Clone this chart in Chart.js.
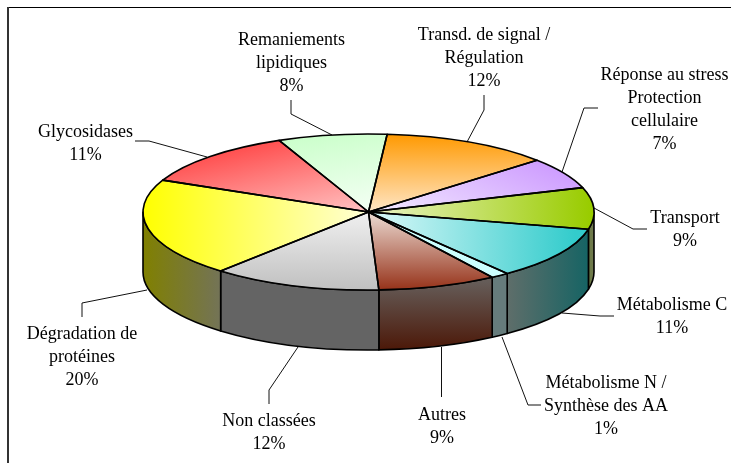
<!DOCTYPE html>
<html lang="fr">
<head>
<meta charset="utf-8">
<title>Catégories fonctionnelles</title>
<script src="https://cdn.jsdelivr.net/npm/chart.js@4"></script>
<style>html,body{margin:0;padding:0;background:#fff}canvas{display:block}</style>
</head>
<body>
<canvas id="c" width="731" height="463"></canvas>
<script>
const categories = [
  ["Transd. de signal /", "Régulation"],
  ["Réponse au stress", "Protection", "cellulaire"],
  ["Transport"],
  ["Métabolisme C"],
  ["Métabolisme N /", "Synthèse des AA"],
  ["Autres"],
  ["Non classées"],
  ["Dégradation de", "protéines"],
  ["Glycosidases"],
  ["Remaniements", "lipidiques"]
];
const values = [12.1, 6.5, 8.6, 10.9, 1.3, 8.5, 12.1, 20.3, 11.8, 7.8];
const percentLabels = ["12%", "7%", "9%", "11%", "1%", "9%", "12%", "20%", "11%", "8%"];

// --- layout and styling ---
const FIRST_ANGLE = 4.75, RX = 225.5, RY = 78, CX = 368.5, CY = 212, DEPTH = 60;
const K = RY / RX;
const labelPlaces = [
  [484, 40], [664.5, 80], [685, 223], [672, 310], [606, 388],
  [442, 420], [269, 426], [82, 339], [85.5, 137], [291.5, 45]
];
const leaders = [
  [[467,142],[484,110],[484,95]],
  [[562,172],[584,108],[598,108]],
  [[594,208],[633,229],[647,229]],
  [[562,313],[600,316],[614,316]],
  [[502,337],[528,405],[541,405]],
  [[441.5,347],[441.5,397]],
  [[298,347],[269,390],[269,404]],
  [[147,290],[82,303],[82,317]],
  [[135,141],[149,141],[207,157]],
  [[291,100],[291,114],[332,135]]
];
// gradient vector in page pixels: x1,y1,colour1,x2,y2,colour2
const topFaces = [
  [380,212,"#ffe6c6",380,134,"#ff9900"],
  [385,212,"#f1e6ff",565,165,"#cc99ff"],
  [385,212,"#e6f0b8",590,212,"#99cc00"],
  [385,212,"#cff5f5",575,212,"#33cccc"],
  [380,212,"#ccffff",500,212,"#ccffff"],
  [380,212,"#ecdcd4",380,290,"#963219"],
  [380,212,"#f0f0f0",380,290,"#c0c0c0"],
  [143,212,"#ffff00",368,212,"#ffffd6"],
  [205,140,"#ff3c3c",345,215,"#ffc0c0"],
  [285,140,"#ccffcc",375,212,"#f5fff5"]
];
const walls = [
  null, null,
  [587,0,"#6a7a40",594,0,"#707a50"],
  [507,0,"#5f6e6a",587,0,"#176464"],
  [493,0,"#667c7c",507,0,"#667c7c"],
  [0,282,"#655c58",0,350,"#4c1808"],
  [0,0,"#646464",100,0,"#646464"],
  [143,0,"#808000",223,0,"#73735a"],
  null, null
];

function gradient(ctx, x1, y1, c1, x2, y2, c2) {
  const g = ctx.createLinearGradient(x1, y1, x2, y2);
  g.addColorStop(0, c1);
  g.addColorStop(1, c2);
  return g;
}

const squashedPie = {
  id: "squashedPie",
  beforeDatasetsDraw(chart) {
    const ctx = chart.ctx;
    const arcs = chart.getDatasetMeta(0).data;
    // frame
    ctx.save();
    ctx.fillStyle = "#000";
    ctx.fillRect(7, 7, 724, 1);
    ctx.fillStyle = "#333";
    ctx.fillRect(7, 7, 2, 456);
    // leader lines
    ctx.strokeStyle = "#111";
    ctx.lineWidth = 1;
    leaders.forEach(pts => {
      ctx.beginPath();
      pts.forEach((p, i) => i ? ctx.lineTo(p[0], p[1]) : ctx.moveTo(p[0], p[1]));
      ctx.stroke();
    });
    // side walls
    ctx.lineWidth = 1.6;
    ctx.strokeStyle = "#000";
    ctx.lineJoin = "round";
    arcs.forEach((arc, i) => {
      const w = walls[i];
      if (!w) return;
      const a0 = Math.max(arc.startAngle, 0), a1 = Math.min(arc.endAngle, Math.PI);
      if (a1 <= a0) return;
      const r = arc.outerRadius, ry = r * K;
      ctx.beginPath();
      ctx.ellipse(arc.x, CY, r, ry, 0, a0, a1);
      ctx.ellipse(arc.x, CY + DEPTH, r, ry, 0, a1, a0, true);
      ctx.closePath();
      ctx.fillStyle = gradient(ctx, w[0], w[1], w[2], w[3], w[4], w[5]);
      ctx.fill();
      ctx.stroke();
    });
    ctx.restore();
    // top face: the library's arcs, drawn through a flattening transform
    const cyPie = arcs[0].y;
    ctx.save();
    ctx.translate(0, CY);
    ctx.scale(1, K);
    ctx.translate(0, -cyPie);
  },
  afterDatasetsDraw(chart) {
    const ctx = chart.ctx;
    ctx.restore();
    const arcs = chart.getDatasetMeta(0).data;
    ctx.save();
    ctx.lineWidth = 1.6;
    ctx.strokeStyle = "#000";
    ctx.lineJoin = "round";
    arcs.forEach(arc => {
      const r = arc.outerRadius;
      ctx.beginPath();
      ctx.moveTo(arc.x, CY);
      ctx.ellipse(arc.x, CY, r, r * K, 0, arc.startAngle, arc.endAngle);
      ctx.closePath();
      ctx.stroke();
    });
    // labels
    ctx.fillStyle = "#000";
    ctx.font = '18px "Liberation Serif"';
    ctx.textAlign = "center";
    ctx.textBaseline = "alphabetic";
    categories.forEach((lines, i) => {
      const [x, y] = labelPlaces[i];
      lines.concat(percentLabels[i]).forEach((t, j) => ctx.fillText(t, x, y + j * 23));
    });
    ctx.restore();
  }
};

new Chart(document.getElementById("c"), {
  type: "pie",
  data: {
    labels: categories.map(l => l.join(" ")),
    datasets: [{
      data: values,
      clip: false,
      radius: RX,
      borderWidth: 0,
      backgroundColor(c) {
        const f = topFaces[c.dataIndex];
        const ctx = c.chart.ctx;
        const cyPie = c.chart.chartArea ? (c.chart.chartArea.top + c.chart.chartArea.bottom) / 2 : CY;
        const py = y => cyPie + (y - CY) / K;
        return gradient(ctx, f[0], py(f[1]), f[2], f[3], py(f[4]), f[5]);
      }
    }]
  },
  options: {
    responsive: false,
    animation: false,
    events: [],
    rotation: FIRST_ANGLE,
    layout: { padding: { left: 6 } },
    plugins: { legend: { display: false }, tooltip: { enabled: false } }
  },
  plugins: [squashedPie]
});
</script>
</body>
</html>
